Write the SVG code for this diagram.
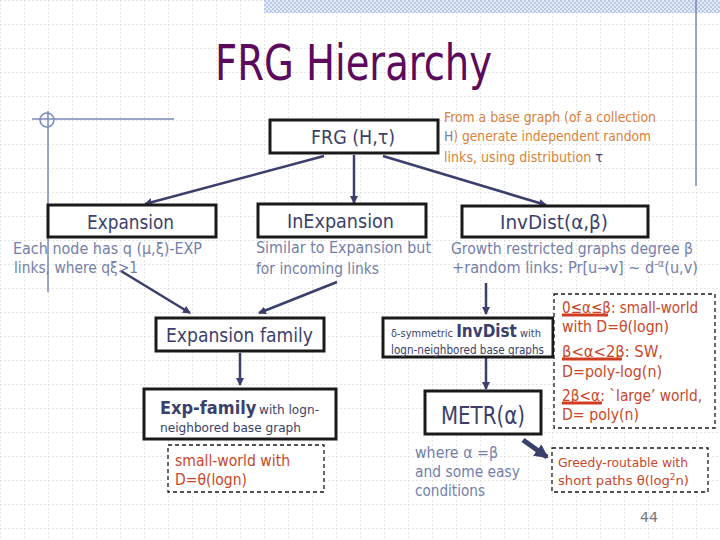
<svg xmlns="http://www.w3.org/2000/svg" width="720" height="540" viewBox="0 0 720 540">
<style>
  text { font-family: "DejaVu Sans Condensed", "DejaVu Sans", "Liberation Sans", sans-serif; }
  .box { fill: #ffffff; stroke: #1a1a1a; stroke-width: 3; }
  .dash { fill: #ffffff; stroke: #1a1a1a; stroke-width: 1.3; stroke-dasharray: 4 3; }
  .main { fill: #3b3f6b; }
  .note { fill: #7480aa; }
  .orange { fill: #d9823a; }
  .red { fill: #c8472a; }
  .conn { stroke: #3b3f6b; stroke-width: 2.5; fill: none; marker-end: url(#ah); }
  .deco { stroke: #7a88b8; stroke-width: 1.5; fill: none; }
  .ul { stroke: #d23c1e; stroke-width: 3; }
</style>
<defs>
  <pattern id="grid" width="24" height="24" patternUnits="userSpaceOnUse">
    <path d="M0 0 H24 M0 0 V24" stroke="#cfcfcf" stroke-width="1" stroke-dasharray="2 2" fill="none"/>
  </pattern>
  <pattern id="check" width="4" height="4" patternUnits="userSpaceOnUse">
    <rect width="4" height="4" fill="#e6ecf7"/>
    <rect width="2" height="2" fill="#b9c8e6"/>
    <rect x="2" y="2" width="2" height="2" fill="#b9c8e6"/>
  </pattern>
  <marker id="ah" markerWidth="8" markerHeight="8" refX="7" refY="4" orient="auto" markerUnits="userSpaceOnUse">
    <path d="M0 0 L8 4 L0 8 Z" fill="#3b3f6b"/>
  </marker>
  <marker id="ahb" markerWidth="14" markerHeight="14" refX="12" refY="7" orient="auto" markerUnits="userSpaceOnUse">
    <path d="M0 0 L14 7 L0 14 Z" fill="#3b3f6b"/>
  </marker>
</defs>

<rect width="720" height="540" fill="#ffffff"/>
<rect width="720" height="540" fill="url(#grid)"/>
<rect x="264" y="0" width="456" height="13" fill="url(#check)"/>
<line class="deco" x1="696" y1="0" x2="696" y2="186"/>
<line class="deco" x1="32" y1="119" x2="174" y2="119"/>
<line class="deco" x1="48" y1="111" x2="48" y2="292"/>
<circle class="deco" cx="47" cy="120" r="7"/>

<text x="215" y="80" font-size="50" fill="#5c0b5c" textLength="277" lengthAdjust="spacingAndGlyphs">FRG Hierarchy</text>

<g id="connectors">
  <line class="conn" x1="324" y1="156" x2="145" y2="204"/>
  <line class="conn" x1="354" y1="155" x2="354" y2="203"/>
  <line class="conn" x1="383" y1="156" x2="546" y2="205"/>
  <line class="conn" x1="121" y1="271" x2="190" y2="313"/>
  <line class="conn" x1="337" y1="282" x2="259" y2="313"/>
  <line class="conn" x1="240" y1="353" x2="240" y2="385"/>
  <line class="conn" x1="486" y1="283" x2="486" y2="314"/>
  <line class="conn" x1="486" y1="358" x2="486" y2="389"/>
  <line stroke="#3b3f6b" stroke-width="5" x1="523" y1="440" x2="547" y2="457" marker-end="url(#ahb)"/>
</g>

<g id="frg">
  <rect class="box" x="270" y="120" width="168" height="33"/>
  <text class="main" x="311" y="144" font-size="19" textLength="84" lengthAdjust="spacingAndGlyphs">FRG (H,τ)</text>
</g>

<g id="frg-note">
  <text class="orange" x="444" y="122" font-size="14" textLength="212" lengthAdjust="spacingAndGlyphs">From a base graph (of a collection</text>
  <text class="orange" x="444" y="141" font-size="14" textLength="207" lengthAdjust="spacingAndGlyphs"><tspan fill="#7480aa">H</tspan>) generate independent random</text>
  <text class="orange" x="444" y="162" font-size="14" textLength="159" lengthAdjust="spacingAndGlyphs">links,  using distribution <tspan fill="#3b3f6b">τ</tspan></text>
</g>

<g id="expansion">
  <rect class="box" x="48" y="205" width="168" height="32"/>
  <text class="main" x="87" y="229" font-size="19" textLength="87" lengthAdjust="spacingAndGlyphs">Expansion</text>
  <text class="note" x="13" y="254" font-size="15" textLength="189" lengthAdjust="spacingAndGlyphs">Each node has q (μ,ξ)-EXP</text>
  <text class="note" x="14" y="273" font-size="15" textLength="124" lengthAdjust="spacingAndGlyphs">links, where qξ&gt;1</text>
</g>

<g id="inexpansion">
  <rect class="box" x="258" y="204" width="168" height="33"/>
  <text class="main" x="287" y="228" font-size="19" textLength="107" lengthAdjust="spacingAndGlyphs">InExpansion</text>
  <text class="note" x="256" y="253" font-size="15" textLength="175" lengthAdjust="spacingAndGlyphs">Similar to Expansion  but</text>
  <text class="note" x="256" y="274" font-size="15" textLength="123" lengthAdjust="spacingAndGlyphs">for incoming links</text>
</g>

<g id="invdist">
  <rect class="box" x="462" y="206" width="186" height="31"/>
  <text class="main" x="500" y="229" font-size="20" textLength="108" lengthAdjust="spacingAndGlyphs">InvDist(α,β)</text>
  <text class="note" x="451" y="254" font-size="15" textLength="242" lengthAdjust="spacingAndGlyphs">Growth restricted graphs degree  β</text>
  <text class="note" x="452" y="273" font-size="15" textLength="246" lengthAdjust="spacingAndGlyphs">+random links: Pr[u→v] ~ d<tspan font-size="10" dy="-6">-α</tspan><tspan dy="6">(u,v)</tspan></text>
</g>

<g id="expansion-family">
  <rect class="box" x="156" y="318" width="168" height="33"/>
  <text class="main" x="166" y="342" font-size="19" textLength="147" lengthAdjust="spacingAndGlyphs">Expansion family</text>
</g>

<g id="exp-family">
  <rect class="box" x="144" y="389" width="192" height="50"/>
  <text class="main" x="160" y="414" font-size="18" font-weight="bold">Exp-family</text>
  <text class="main" x="259" y="414" font-size="13" textLength="60" lengthAdjust="spacingAndGlyphs">with logn-</text>
  <text class="main" x="160" y="432" font-size="13" textLength="141" lengthAdjust="spacingAndGlyphs">neighbored base graph</text>
</g>

<g id="small-world-left">
  <rect class="dash" x="168" y="445" width="156" height="47"/>
  <text class="red" x="175" y="466" font-size="15" textLength="115" lengthAdjust="spacingAndGlyphs">small-world with</text>
  <text class="red" x="175" y="485" font-size="15" textLength="72" lengthAdjust="spacingAndGlyphs">D=θ(logn)</text>
</g>

<g id="sym-invdist">
  <rect class="box" x="383" y="318" width="170" height="39"/>
  <text class="main" x="391" y="337" font-size="11" textLength="150" lengthAdjust="spacingAndGlyphs">δ-symmetric <tspan font-size="17" font-weight="bold">InvDist</tspan> with</text>
  <text class="main" x="391" y="354" font-size="12" textLength="153" lengthAdjust="spacingAndGlyphs">logn-neighbored base graphs</text>
</g>

<g id="metr">
  <rect class="box" x="425" y="391" width="116" height="43"/>
  <text class="main" x="441" y="424" font-size="24" textLength="84" lengthAdjust="spacingAndGlyphs">METR(α)</text>
  <text class="note" x="415" y="458" font-size="15" fill="#8a96c4" textLength="83" lengthAdjust="spacingAndGlyphs">where  α =β</text>
  <text class="note" x="415" y="477" font-size="15" textLength="105" lengthAdjust="spacingAndGlyphs">and some easy</text>
  <text class="note" x="415" y="496" font-size="15" textLength="70" lengthAdjust="spacingAndGlyphs">conditions</text>
</g>

<g id="regimes">
  <rect class="dash" x="554" y="294" width="161" height="134"/>
  <text class="red" x="562" y="313" font-size="16" textLength="136" lengthAdjust="spacingAndGlyphs">0≤α≤β: small-world</text>
  <text class="red" x="562" y="332" font-size="16" textLength="107" lengthAdjust="spacingAndGlyphs">with D=θ(logn)</text>
  <text class="red" x="562" y="357" font-size="16" textLength="101" lengthAdjust="spacingAndGlyphs">β&lt;α&lt;2β: SW,</text>
  <text class="red" x="562" y="377" font-size="16" textLength="100" lengthAdjust="spacingAndGlyphs">D=poly-log(n)</text>
  <text class="red" x="562" y="401" font-size="16" textLength="140" lengthAdjust="spacingAndGlyphs">2β&lt;α: `large’ world,</text>
  <text class="red" x="562" y="420" font-size="16" textLength="77" lengthAdjust="spacingAndGlyphs">D= poly(n)</text>
  <line class="ul" x1="562" y1="315" x2="608" y2="315"/>
  <line class="ul" x1="562" y1="359" x2="622" y2="359"/>
  <line class="ul" x1="562" y1="403" x2="602" y2="403"/>
</g>

<g id="greedy">
  <rect class="dash" x="552" y="448" width="156" height="44"/>
  <text class="red" x="558" y="467" font-size="13" textLength="130" lengthAdjust="spacingAndGlyphs">Greedy-routable with</text>
  <text class="red" x="558" y="485" font-size="13" textLength="131" lengthAdjust="spacingAndGlyphs">short paths θ(log<tspan font-size="9" dy="-5">2</tspan><tspan dy="5">n)</tspan></text>
</g>

<text x="640" y="522" font-size="14" fill="#777777" textLength="18" lengthAdjust="spacingAndGlyphs">44</text>
</svg>
